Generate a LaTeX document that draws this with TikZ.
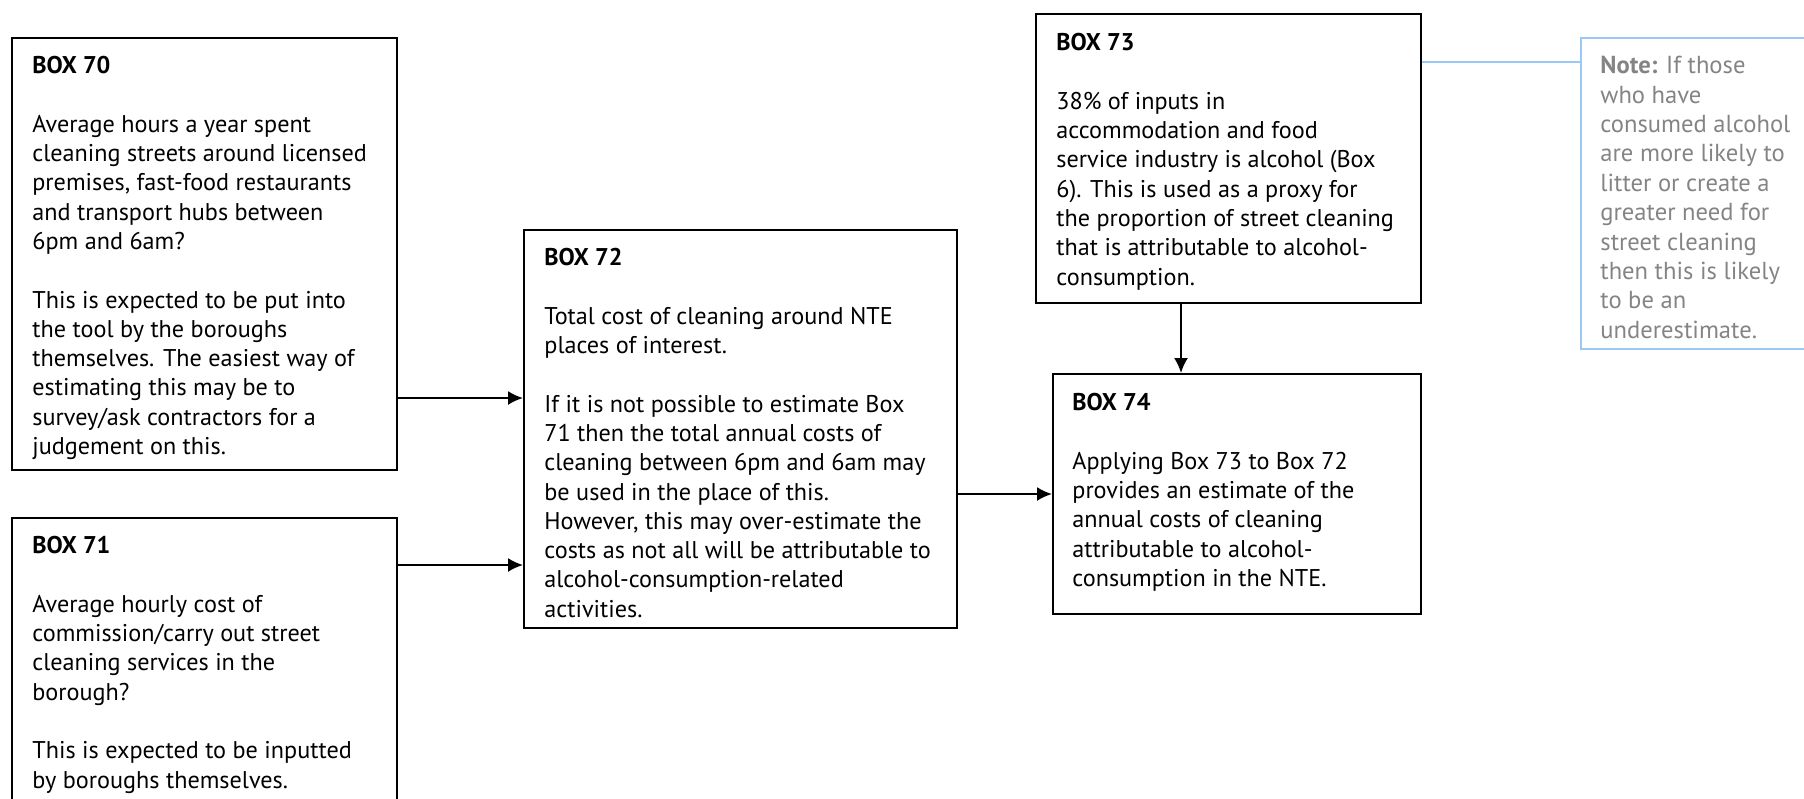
\documentclass[tikz,border=0pt]{standalone}
\usepackage{fontspec}
\setmainfont{PT Sans}
\usetikzlibrary{arrows.meta,positioning}
\definecolor{noteblue}{RGB}{155,200,245}
\definecolor{notegrey}{RGB}{132,132,132}

\begin{document}
\begin{tikzpicture}[x=0.5pt,y=-0.5pt,>={Latex[length=7.5pt,width=7pt]},
  every node/.style={inner sep=0pt},
  infobox/.style={draw,line width=1pt,anchor=north west},
  boxtext/.style={anchor=north west,align=left,font=\fontsize{12.1}{14.65}\selectfont},
  link/.style={->,line width=1pt}]
  \useasboundingbox (0,0) rectangle (1804,798);

  % boxes
  \node[infobox,minimum width=192.5pt,minimum height=216pt] (b70) at (11,37) {};
  \node[infobox,minimum width=192.5pt,minimum height=150pt] (b71) at (11,517) {};
  \node[infobox,minimum width=216.5pt,minimum height=199pt] (b72) at (523,229) {};
  \node[infobox,minimum width=192.5pt,minimum height=144.5pt] (b73) at (1035,13) {};
  \node[infobox,minimum width=184pt,minimum height=120pt] (b74) at (1052,373) {};
  \node[infobox,draw=noteblue,minimum width=125pt,minimum height=155.5pt] (note) at (1580,37) {};

  % texts
  \begin{scope}
    \clip (b70.north west) rectangle ([yshift=5.5pt]b70.south east);
    \node[boxtext] (t70) at ([shift={(21,19)}]b70.north west)
      {\textbf{BOX 70}\\[\baselineskip]
       Average hours a year spent\\
       cleaning streets around licensed\\
       premises, fast-food restaurants\\
       and transport hubs between\\
       6pm and 6am?\\[\baselineskip]
       This is expected to be put into\\
       the tool by the boroughs\\
       themselves. The easiest way of\\
       estimating this may be to\\
       survey/ask contractors for a\\
       judgement on this.};
  \end{scope}
  \node[boxtext] (t71) at ([shift={(21,19)}]b71.north west)
    {\textbf{BOX 71}\\[\baselineskip]
     Average hourly cost of\\
     commission/carry out street\\
     cleaning services in the\\
     borough?\\[\baselineskip]
     This is expected to be inputted\\
     by boroughs themselves.};
  \begin{scope}
    \clip (b72.north west) rectangle ([yshift=5pt]b72.south east);
    \node[boxtext] (t72) at ([shift={(21,19)}]b72.north west)
      {\textbf{BOX 72}\\[\baselineskip]
       Total cost of cleaning around NTE\\
       places of interest.\\[\baselineskip]
       If it is not possible to estimate Box\\
       71 then the total annual costs of\\
       cleaning between 6pm and 6am may\\
       be used in the place of this.\\
       However, this may over-estimate the\\
       costs as not all will be attributable to\\
       alcohol-consumption-related\\
       activities.};
  \end{scope}
  \node[boxtext] (t73) at ([shift={(21,20)}]b73.north west)
    {\textbf{BOX 73}\\[\baselineskip]
     38\% of inputs in\\
     accommodation and food\\
     service industry is alcohol (Box\\
     6). This is used as a proxy for\\
     the proportion of street cleaning\\
     that is attributable to alcohol-\\
     consumption.};
  \node[boxtext] (t74) at ([shift={(20,20)}]b74.north west)
    {\textbf{BOX 74}\\[\baselineskip]
     Applying Box 73 to Box 72\\
     provides an estimate of the\\
     annual costs of cleaning\\
     attributable to alcohol-\\
     consumption in the NTE.};
  \node[boxtext,font=\fontsize{12.3}{14.7}\selectfont,text=notegrey] (tnote) at ([shift={(20,19)}]note.north west)
    {\textbf{Note:} If those\\
     who have\\
     consumed alcohol\\
     are more likely to\\
     litter or create a\\
     greater need for\\
     street cleaning\\
     then this is likely\\
     to be an\\
     underestimate.};

  % connectors
  \coordinate (o70) at ([yshift=-72pt]b70.east);
  \coordinate (o71) at ([yshift=51.5pt]b71.east);
  \coordinate (o73) at ([xshift=-23.75pt]b73.south);
  \coordinate (n73) at ([yshift=48.25pt]b73.east);
  \draw[link] (o70) -- (o70 -| b72.west);
  \draw[link] (o71) -- (o71 -| b72.west);
  \draw[link] (b74.west -| b72.east) -- (b74.west);
  \draw[link] (o73) -- (o73 |- b74.north);
  \draw[noteblue,line width=1pt] (n73) -- (n73 -| note.west);
\end{tikzpicture}
\end{document}
